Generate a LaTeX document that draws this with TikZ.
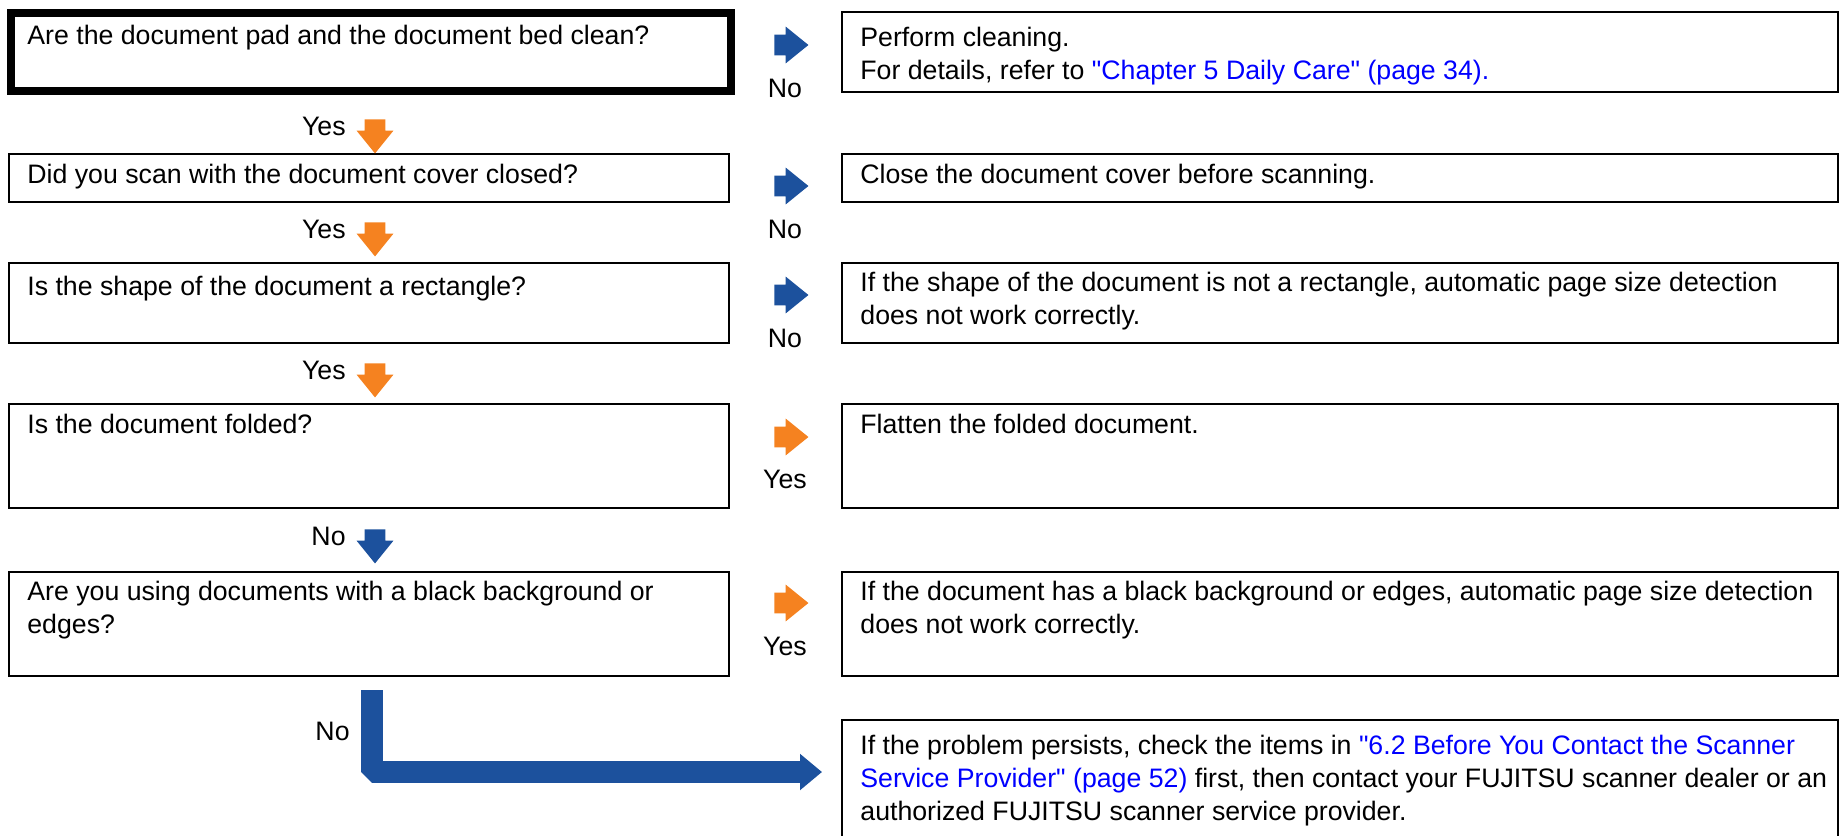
\documentclass[tikz,border=0pt]{standalone}
\usepackage{fontspec}
\setmainfont{Liberation Sans}
\usetikzlibrary{positioning,arrows.meta,shapes.arrows}
\definecolor{ansblue}{RGB}{28,81,157}
\definecolor{ansorange}{RGB}{245,130,32}
\definecolor{linkblue}{RGB}{0,0,255}
\newcommand{\dq}{\textquotedbl{}}

\begin{document}
\begin{tikzpicture}[x=0.5pt, y=-0.5pt,
  every node/.style={font=\fontsize{13.35}{16.5}\selectfont},
  qbox/.style={rectangle, draw=black, line width=1.1pt, outer sep=0pt, inner sep=0pt, minimum width=360pt},
  abox/.style={rectangle, draw=black, line width=1.1pt, outer sep=0pt, inner sep=0pt, minimum width=498pt},
  txt/.style={anchor=north west, align=left, inner sep=0pt, execute at begin node=\strut},
  arr/.style={single arrow, draw=none, inner xsep=0pt, inner ysep=5pt, single arrow head extend=4pt, single arrow tip angle=78, minimum height=17pt},
  noarr/.style={arr, fill=ansblue},
  yesarr/.style={arr, fill=ansorange},
  lbl/.style={inner sep=0pt},
  lshape/.style={draw=ansblue, line width=11pt, line join=bevel, -{Triangle[length=11pt, width=17.5pt]}}
]
\useasboundingbox (0,0) rectangle (1840,835);

% question boxes (left) and answer boxes (right)
\node[qbox, line width=4pt, minimum height=39pt] (q1) at (371,52) {};
\node[abox, minimum height=40pt] (a1) at (1340,52) {};
\node[qbox, minimum height=24pt] (q2) at (369,178) {};
\node[abox, minimum height=24pt] (a2) at (1340,178) {};
\node[qbox, minimum height=40pt] (q3) at (369,303) {};
\node[abox, minimum height=40pt] (a3) at (1340,303) {};
\node[qbox, minimum height=52pt] (q4) at (369,456) {};
\node[abox, minimum height=52pt] (a4) at (1340,456) {};
\node[qbox, minimum height=52pt] (q5) at (369,624) {};
\node[abox, minimum height=52pt] (a5) at (1340,624) {};
\node[abox, minimum height=80pt] (a6) at (1340,800) {};

% texts
\node[txt] (q1t) at ([shift={(16,8)}]q1.north west) {Are the document pad and the document bed clean?};
\node[txt] (a1t) at ([shift={(18,15)}]a1.north west) {Perform cleaning.\\For details, refer to \textcolor{linkblue}{\dq Chapter 5 Daily Care\dq\ (page 34).}};
\node[txt] (q2t) at ([shift={(18,6)}]q2.north west) {Did you scan with the document cover closed?};
\node[txt] (a2t) at ([shift={(18,6)}]a2.north west) {Close the document cover before scanning.};
\node[txt] (q3t) at ([shift={(18,9)}]q3.north west) {Is the shape of the document a rectangle?};
\node[txt] (a3t) at ([shift={(18,9)}]a3.north west) {If the shape of the document is not a rectangle, automatic page size detection\\does not work correctly.};
\node[txt] (q4t) at ([shift={(18,6)}]q4.north west) {Is the document folded?};
\node[txt] (a4t) at ([shift={(18,6)}]a4.north west) {Flatten the folded document.};
\node[txt] (q5t) at ([shift={(18,9)}]q5.north west) {Are you using documents with a black background or\\edges?};
\node[txt] (a5t) at ([shift={(18,9)}]a5.north west) {If the document has a black background or edges, automatic page size detection\\does not work correctly.};
\node[txt] (a6t) at ([shift={(18,15)}]a6.north west) {If the problem persists, check the items in \textcolor{linkblue}{\dq 6.2 Before You Contact the Scanner}\\\textcolor{linkblue}{Service Provider\dq\ (page 52)} first, then contact your FUJITSU scanner dealer or an\\authorized FUJITSU scanner service provider.};

% side arrows
\node[noarr] (h1) at (785,45) {};
\node[noarr] (h2) at (785,186) {};
\node[noarr] (h3) at (785,295) {};
\node[yesarr] (h4) at (785,437) {};
\node[yesarr] (h5) at (785,603) {};
\node[lbl, anchor=base] (h1l) at (785,97) {No};
\node[lbl, anchor=base] (h2l) at (785,238) {No};
\node[lbl, anchor=base] (h3l) at (785,347) {No};
\node[lbl, anchor=base] (h4l) at (785,488) {Yes};
\node[lbl, anchor=base] (h5l) at (785,655) {Yes};

% down arrows
\node[yesarr, rotate=-90] (v1) at (375,130) {};
\node[yesarr, rotate=-90] (v2) at (375,233) {};
\node[yesarr, rotate=-90] (v3) at (375,374) {};
\node[noarr, rotate=-90] (v4) at (375,540) {};
\node[lbl, anchor=base east] (v1l) at (346,135) {Yes};
\node[lbl, anchor=base east] (v2l) at (346,238) {Yes};
\node[lbl, anchor=base east] (v3l) at (346,379) {Yes};
\node[lbl, anchor=base east] (v4l) at (346,545) {No};

% last answer
\coordinate (lstart) at (372,690);
\coordinate (lend) at (822,772);
\draw[lshape] (lstart) |- (lend);
\node[lbl, anchor=base east] (v5l) at (350,740) {No};

\end{tikzpicture}
\end{document}
